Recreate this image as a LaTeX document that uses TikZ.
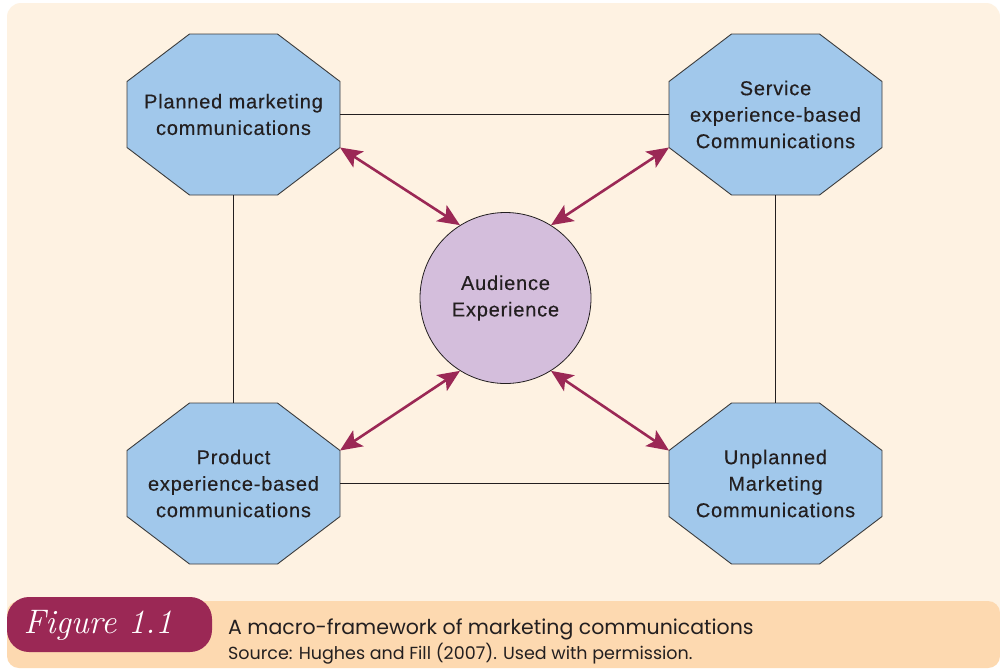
\documentclass[tikz,border=0pt]{standalone}
\usepackage{fontspec}
\setmainfont{Liberation Sans}
\newfontfamily\capfont{Poppins}
\newfontfamily\nodefont[LetterSpace=4,FakeBold=0.35]{Liberation Sans}
\newfontfamily\figfont{Latin Modern Roman}
\usetikzlibrary{arrows.meta}
\definecolor{cream}{RGB}{254,242,226}
\definecolor{peach}{RGB}{253,217,176}
\definecolor{octblue}{RGB}{161,200,235}
\definecolor{lilac}{RGB}{212,190,220}
\definecolor{maroon}{RGB}{155,40,85}
\definecolor{ink}{RGB}{35,31,32}
\definecolor{edge}{RGB}{60,60,60}
\tikzset{
  octa/.style={draw=edge, line width=0.9pt, fill=octblue},
  octtext/.style={minimum width=213pt, minimum height=161pt, inner sep=0pt,
    align=center, text=ink, font=\nodefont\fontsize{20}{26.5}\selectfont},
  link/.style={draw=ink, line width=0.9pt},
  twoway/.style={draw=maroon, line width=2.6pt,
    {Stealth[length=22pt,width=19pt,inset=5pt]}-{Stealth[length=22pt,width=19pt,inset=5pt]}},
}
\newcommand{\octshape}[3]{%
  \begin{scope}[shift={(#2,#3)}]
    \draw[octa] (-106.5,-33) -- (-44,-80.5) -- (44,-80.5) -- (106.5,-33)
      -- (106.5,33) -- (44,80.5) -- (-44,80.5) -- (-106.5,33) -- cycle;
    \coordinate (#1-ur) at (106.5,-33);
    \coordinate (#1-lr) at (106.5,33);
    \coordinate (#1-ul) at (-106.5,-33);
    \coordinate (#1-ll) at (-106.5,33);
  \end{scope}}
\begin{document}
\begin{tikzpicture}[x=1pt,y=-1pt]
\useasboundingbox (0,0) rectangle (1000,670);
\fill[white] (0,0) rectangle (1000,670);
% backgrounds
\fill[cream, rounded corners=14pt] (7,3) rectangle (1000,640);
\fill[peach, rounded corners=12pt] (7,601) rectangle (1000,668);
\fill[peach] (7,640) rectangle (20,650);
% badge
\fill[maroon, rounded corners=22pt] (7,597) rectangle (212,652);
\node[text=white, font=\figfont\itshape\fontsize{34}{34}\selectfont, anchor=base] (fig) at (98,633) {Figure~1.1};
\node[anchor=base west, inner sep=0pt, text=ink, font=\capfont\fontsize{20.5}{21}\selectfont] (cap) at (228,634) {A macro-framework of marketing communications};
\node[anchor=base west, inner sep=0pt, text=ink, font=\capfont\fontsize{17.5}{18}\selectfont] (src) at (228,659) {Source: Hughes and Fill (2007). Used with permission.};
% octagons
\octshape{tl}{233.5}{114.5}
\octshape{tr}{775.5}{114.5}
\octshape{bl}{233.5}{483.5}
\octshape{br}{775.5}{483.5}
\node[octtext] (tl) at (233.5,114.5) {Planned marketing\\communications};
\node[octtext] (tr) at (775.5,114.5) {Service\\experience-based\\Communications};
\node[octtext] (bl) at (233.5,483.5) {Product\\experience-based\\communications};
\node[octtext] (br) at (775.5,483.5) {Unplanned\\Marketing\\Communications};
% connectors
\draw[link] (tl.east) -- (tr.west);
\draw[link] (bl.east) -- (br.west);
\draw[link] (tl.south) -- (bl.north);
\draw[link] (tr.south) -- (br.north);
% centre
\node[circle, draw=ink, line width=0.8pt, fill=lilac, minimum size=171pt, inner sep=0pt,
  align=center, text=ink, font=\nodefont\fontsize{20}{26.5}\selectfont] (aud) at (505.5,298) {Audience\\Experience};
\draw[twoway] (tl-lr) -- (aud.122);
\draw[twoway] (tr-ll) -- (aud.58);
\draw[twoway] (bl-ur) -- (aud.238);
\draw[twoway] (br-ul) -- (aud.302);
\end{tikzpicture}
\end{document}
